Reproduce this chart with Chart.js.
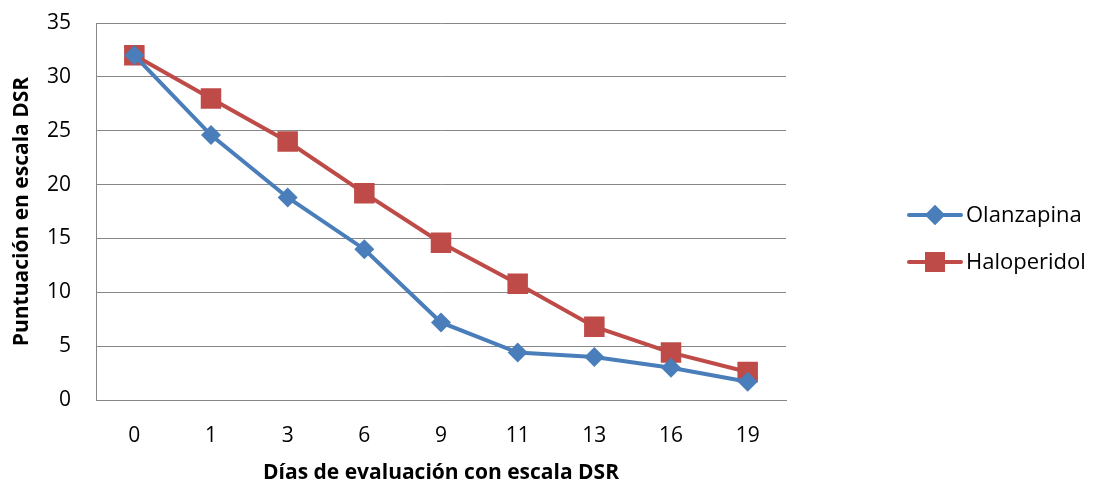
<!DOCTYPE html>
<html>
<head>
<meta charset="utf-8">
<script src="https://cdn.jsdelivr.net/npm/chart.js@4"></script>
<style>
html,body{margin:0;padding:0;background:#fff;}
#wrap{width:1095px;height:487px;position:relative;}
</style>
</head>
<body>
<div id="wrap"><canvas id="c" width="1095" height="487"></canvas></div>
<script>
const categories = ['0','1','3','6','9','11','13','16','19'];
const olanzapina = [32.0, 24.6, 18.8, 14.0, 7.2, 4.4, 4.0, 3.0, 1.7];
const haloperidol = [32.0, 28.0, 24.0, 19.2, 14.6, 10.8, 6.8, 4.4, 2.6];
const seriesNames = ['Olanzapina', 'Haloperidol'];
const yTitle = 'Puntuación en escala DSR';
const xTitle = 'Días de evaluación con escala DSR';

const BLUE = '#4A7EBB';
const RED = '#BE4B48';
const FONT = "'Open Sans', 'Liberation Sans', sans-serif";

const legendPlugin = {
  id: 'customLegend',
  afterDraw(chart) {
    const ctx = chart.ctx;
    const items = [
      {label: seriesNames[0], color: BLUE, style: 'rectRot', r: 10, y: 215},
      {label: seriesNames[1], color: RED, style: 'rect', r: 14, y: 262}
    ];
    ctx.save();
    items.forEach(it => {
      ctx.strokeStyle = it.color;
      ctx.lineWidth = 4;
      ctx.lineCap = 'round';
      ctx.beginPath();
      ctx.moveTo(909, it.y);
      ctx.lineTo(961, it.y);
      ctx.stroke();
      ctx.fillStyle = it.color;
      Chart.helpers.drawPoint(ctx, {pointStyle: it.style, radius: it.r, rotation: 0, borderWidth: 0}, 935, it.y);
      ctx.fill();
      ctx.fillStyle = '#000';
      ctx.font = '22px ' + FONT;
      ctx.textBaseline = 'middle';
      ctx.textAlign = 'left';
      ctx.fillText(it.label, 966, it.y + 1);
    });
    ctx.restore();
  }
};

new Chart(document.getElementById('c'), {
  type: 'line',
  data: {
    labels: categories,
    datasets: [
      {
        label: seriesNames[0],
        data: olanzapina,
        borderColor: BLUE,
        backgroundColor: BLUE,
        borderWidth: 4,
        pointStyle: 'rectRot',
        pointRadius: 10,
        pointHoverRadius: 10,
        pointBorderWidth: 0,
        tension: 0
      },
      {
        label: seriesNames[1],
        data: haloperidol,
        borderColor: RED,
        backgroundColor: RED,
        borderWidth: 4,
        pointStyle: 'rect',
        pointRadius: 14.5,
        pointHoverRadius: 14.5,
        pointBorderWidth: 0,
        tension: 0
      }
    ]
  },
  options: {
    responsive: false,
    animation: false,
    events: [],
    layout: {autoPadding: false, padding: {left: 0, right: 309, top: 23, bottom: 0}},
    plugins: {legend: {display: false}, tooltip: {enabled: false}},
    scales: {
      x: {
        offset: true,
        grid: {display: false, drawTicks: false},
        border: {display: true, color: '#878787', width: 1},
        ticks: {color: '#000', font: {family: FONT, size: 21}, padding: 23},
        title: {display: true, text: xTitle, color: '#000', font: {family: FONT, size: 21, weight: 'bold'}, padding: {top: 0, bottom: 1}},
        afterFit(s) { s.height = 87; }
      },
      y: {
        min: 0, max: 35,
        ticks: {stepSize: 5, color: '#000', font: {family: FONT, size: 21}, padding: 25},
        grid: {color: '#878787', lineWidth: 1, drawTicks: false},
        border: {display: true, color: '#878787', width: 1},
        title: {display: true, text: yTitle, color: '#000', font: {family: FONT, size: 21, weight: 'bold'}, padding: {top: 9, bottom: 0}},
        afterFit(s) { s.width = 96; s.paddingTop = 0; s.paddingBottom = 0; }
      }
    }
  },
  plugins: [legendPlugin]
});
</script>
</body>
</html>
